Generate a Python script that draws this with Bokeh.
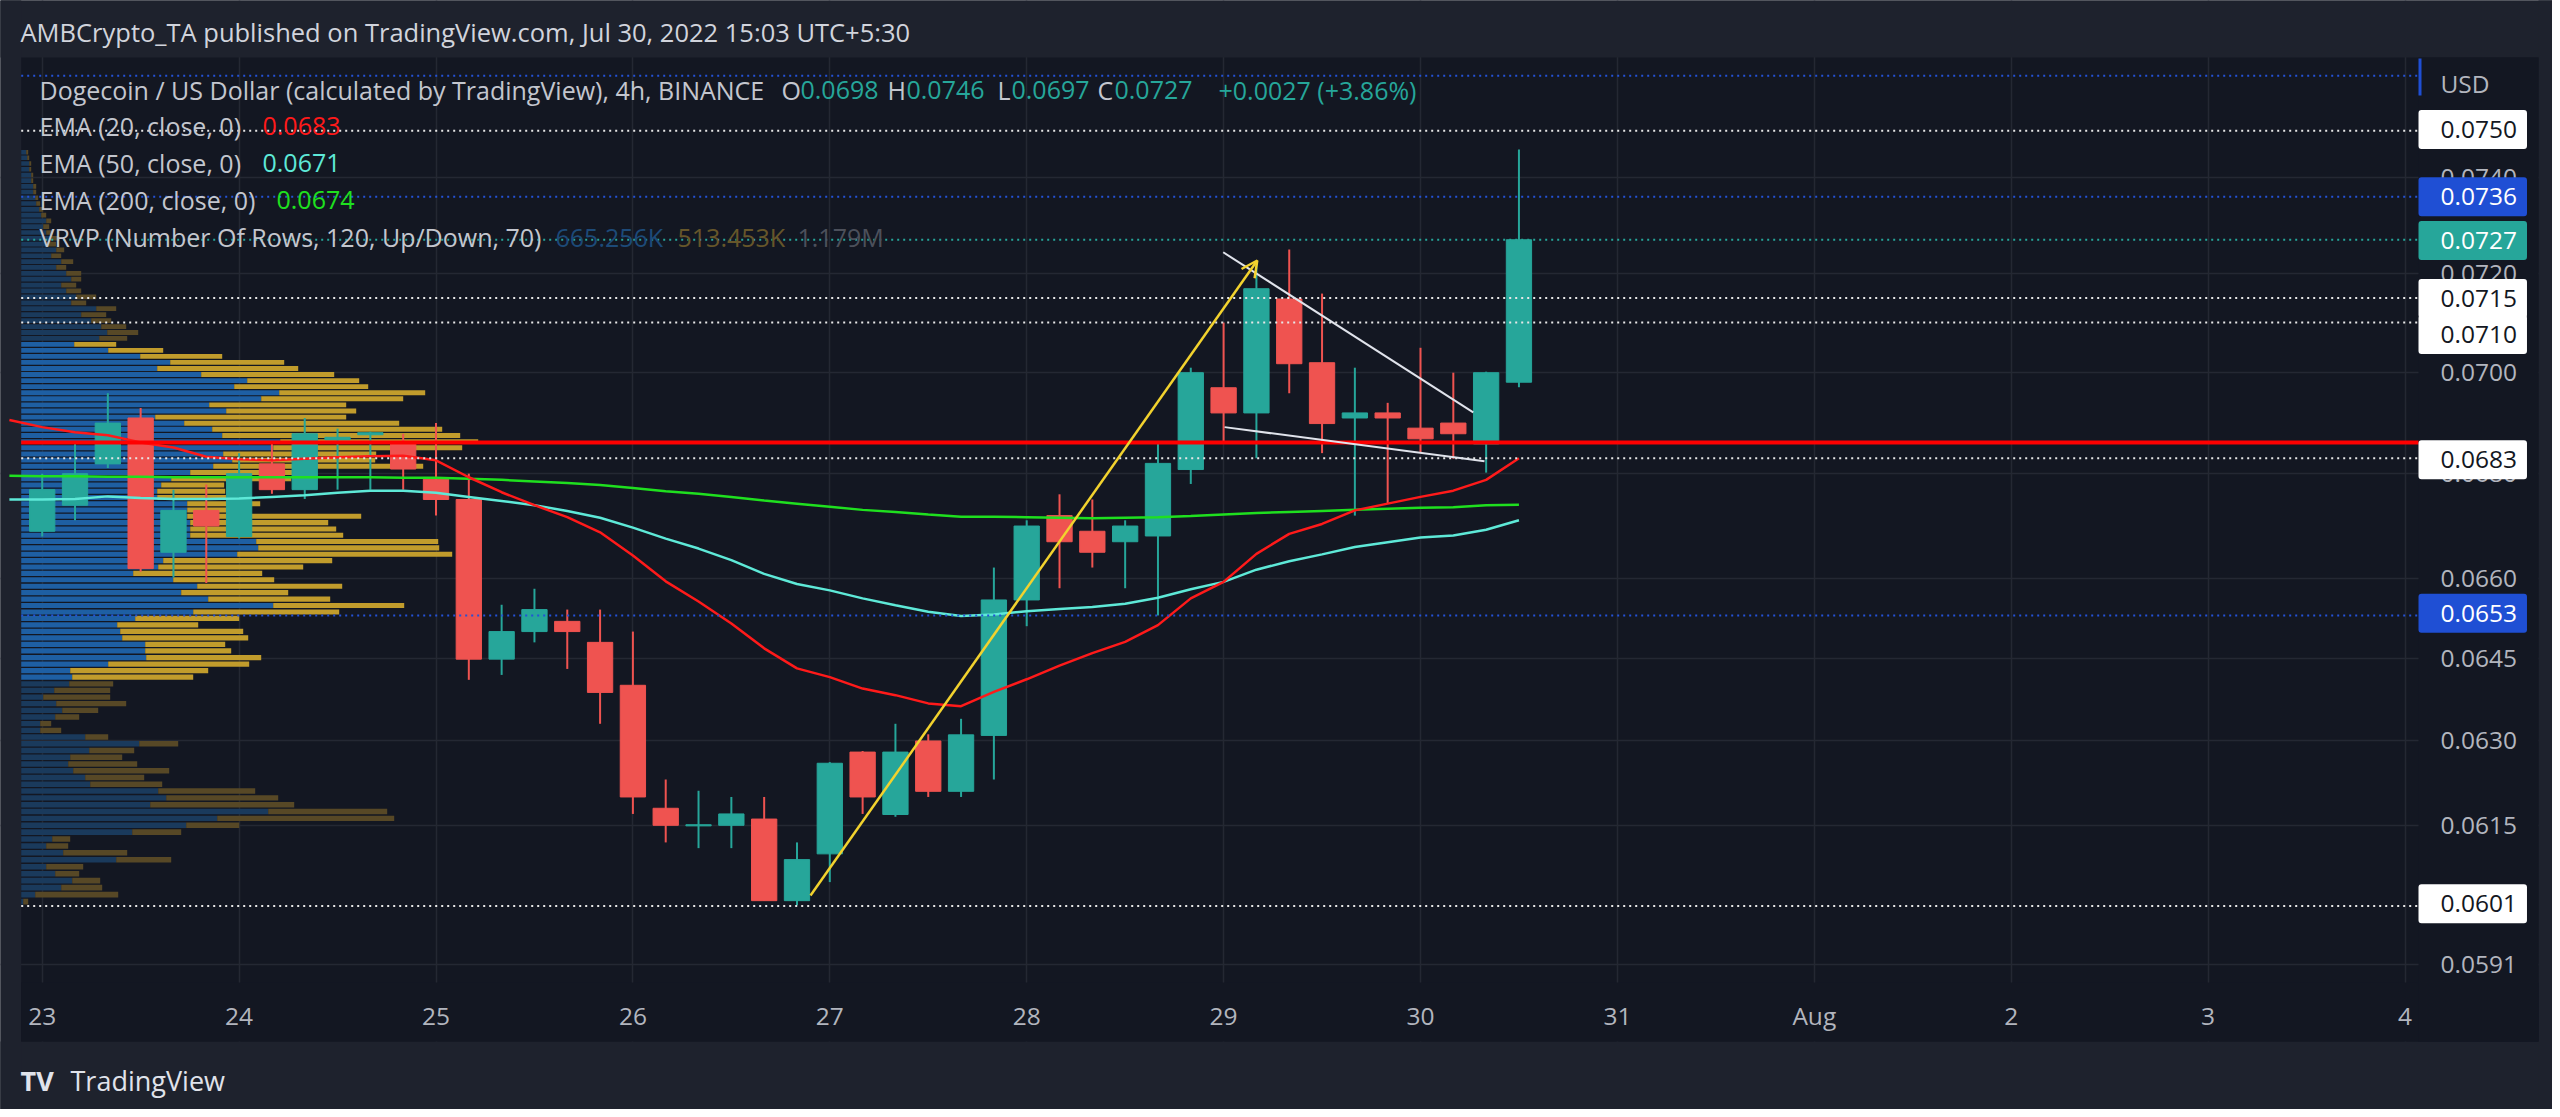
import math
from bokeh.plotting import figure
from bokeh.models import (Range1d, FixedTicker, PrintfTickFormatter, Label,
                          Arrow, OpenHead, ColumnDataSource)
from bokeh.embed import file_html
from bokeh.resources import INLINE

# ---------------- data ----------------
day_labels = ["23", "24", "25", "26", "27", "28", "29", "30", "31", "Aug", "2", "3", "4"]
price_ticks = [0.0591, 0.0615, 0.0630, 0.0645, 0.0660, 0.0680, 0.0700, 0.0720, 0.0740]

candle_open = [0.06689, 0.06739, 0.06819, 0.06909, 0.06649, 0.06729, 0.06679, 0.06819, 0.06769, 0.06866,
               0.06876, 0.06858, 0.06789, 0.06750, 0.06449, 0.06500, 0.06519, 0.06480, 0.06401, 0.06180,
               0.06149, 0.06150, 0.06161, 0.06019, 0.06100, 0.06280, 0.06169, 0.06300, 0.06210, 0.06310,
               0.06559, 0.06719, 0.06689, 0.06669, 0.06680, 0.06808, 0.06969, 0.06919, 0.07148, 0.07019,
               0.06909, 0.06919, 0.06889, 0.06899, 0.06858, 0.06980]
candle_high = [0.06800, 0.06858, 0.06958, 0.06929, 0.06769, 0.06779, 0.06840, 0.06858, 0.06909, 0.06888,
               0.06882, 0.06878, 0.06899, 0.06800, 0.06550, 0.06580, 0.06541, 0.06541, 0.06500, 0.06231,
               0.06211, 0.06200, 0.06200, 0.06120, 0.06262, 0.06282, 0.06331, 0.06312, 0.06340, 0.06620,
               0.06710, 0.06760, 0.06750, 0.06710, 0.06858, 0.07009, 0.07100, 0.07220, 0.07250, 0.07159,
               0.07009, 0.06939, 0.07049, 0.06999, 0.07001, 0.07460]
candle_low = [0.06679, 0.06710, 0.06811, 0.06612, 0.06601, 0.06591, 0.06675, 0.06761, 0.06751, 0.06769,
              0.06769, 0.06769, 0.06719, 0.06411, 0.06420, 0.06480, 0.06431, 0.06331, 0.06170, 0.06120,
              0.06110, 0.06110, 0.06019, 0.06011, 0.06051, 0.06170, 0.06165, 0.06200, 0.06200, 0.06231,
              0.06510, 0.06581, 0.06620, 0.06581, 0.06530, 0.06780, 0.06859, 0.06830, 0.06958, 0.06840,
              0.06719, 0.06742, 0.06842, 0.06829, 0.06802, 0.06970]
candle_close = [0.06769, 0.06800, 0.06899, 0.06618, 0.06729, 0.06699, 0.06800, 0.06769, 0.06878, 0.06871,
                0.06880, 0.06809, 0.06750, 0.06449, 0.06500, 0.06541, 0.06500, 0.06388, 0.06200, 0.06150,
                0.06151, 0.06170, 0.06019, 0.06090, 0.06260, 0.06200, 0.06280, 0.06210, 0.06311, 0.06559,
                0.06699, 0.06669, 0.06649, 0.06699, 0.06820, 0.06999, 0.06919, 0.07169, 0.07017, 0.06898,
                0.06919, 0.06909, 0.06868, 0.06878, 0.06999, 0.07270]

# EMA values, first value is the bar before the first visible candle
ema20 = [0.06905, 0.06891, 0.06881, 0.06875, 0.06861, 0.06851, 0.06833, 0.06828, 0.06826, 0.06829,
         0.06832, 0.06834, 0.06835, 0.06826, 0.06793, 0.06764, 0.06739, 0.06716, 0.06687, 0.06643,
         0.06594, 0.06556, 0.06515, 0.06469, 0.06432, 0.06416, 0.06395, 0.06383, 0.06368, 0.06363,
         0.06389, 0.06412, 0.06437, 0.06460, 0.06481, 0.06512, 0.06562, 0.06593, 0.06646, 0.06684,
         0.06703, 0.06729, 0.06742, 0.06755, 0.06767, 0.06788, 0.06830]
ema50 = [0.06750, 0.06750, 0.06751, 0.06756, 0.06753, 0.06751, 0.06751, 0.06752, 0.06755, 0.06758,
         0.06763, 0.06767, 0.06767, 0.06763, 0.06755, 0.06747, 0.06739, 0.06728, 0.06715, 0.06696,
         0.06675, 0.06656, 0.06634, 0.06608, 0.06589, 0.06577, 0.06562, 0.06549, 0.06537, 0.06529,
         0.06532, 0.06538, 0.06542, 0.06546, 0.06552, 0.06563, 0.06579, 0.06593, 0.06616, 0.06632,
         0.06645, 0.06659, 0.06668, 0.06677, 0.06681, 0.06692, 0.06710]
ema200 = [0.06796, 0.06795, 0.06795, 0.06794, 0.06794, 0.06793, 0.06793, 0.06793, 0.06793, 0.06793,
          0.06793, 0.06793, 0.06792, 0.06792, 0.06790, 0.06788, 0.06785, 0.06782, 0.06778, 0.06772,
          0.06766, 0.06761, 0.06755, 0.06748, 0.06742, 0.06736, 0.06730, 0.06726, 0.06721, 0.06717,
          0.06717, 0.06716, 0.06715, 0.06714, 0.06715, 0.06716, 0.06718, 0.06721, 0.06724, 0.06726,
          0.06728, 0.06730, 0.06732, 0.06734, 0.06735, 0.06739, 0.06740]

# Visible range volume profile: 120 rows between low and high (relative volume units)
vp_low, vp_high, vp_rows = 0.06011, 0.07460, 120
vp_value_area = (33, 86)
vp_up = [2, 14, 40, 51, 34, 25, 95, 42, 25, 31,
         111, 165, 196, 247, 129, 145, 137, 69, 64, 52,
         47, 49, 68, 118, 64, 19, 19, 34, 41, 35,
         22, 33, 48, 51, 49, 87, 125, 124, 124, 101,
         99, 96, 114, 172, 252, 187, 160, 176, 152, 112,
         137, 142, 216, 237, 235, 169, 169, 169, 166, 166,
         166, 136, 136, 140, 150, 169, 192, 211, 202, 252,
         259, 201, 191, 163, 134, 205, 188, 240, 258, 213,
         226, 180, 136, 149, 119, 87, 53, 78, 86, 80,
         70, 60, 75, 50, 55, 45, 40, 50, 45, 35,
         40, 30, 35, 25, 30, 25, 22, 25, 20, 18,
         15, 14, 12, 12, 10, 10, 8, 8, 6, 5]
vp_down = [5, 83, 41, 28, 24, 37, 55, 64, 22, 18,
           49, 53, 177, 119, 144, 112, 97, 72, 59, 96,
           69, 52, 45, 39, 23, 21, 11, 24, 36, 70,
           67, 56, 44, 121, 138, 141, 115, 86, 80, 126,
           123, 81, 104, 146, 131, 122, 107, 145, 101, 129,
           145, 169, 215, 181, 182, 153, 146, 138, 174, 40,
           73, 69, 68, 63, 120, 102, 210, 143, 153, 189,
           198, 238, 230, 215, 191, 130, 137, 142, 146, 134,
           112, 133, 141, 114, 82, 55, 42, 28, 31, 25,
           20, 25, 20, 15, 20, 15, 15, 10, 15, 10,
           12, 10, 8, 10, 8, 6, 6, 5, 5, 4,
           4, 3, 3, 3, 2, 2, 2, 2, 2, 2]

# horizontal drawings
white_levels = [0.0750, 0.0715, 0.0710, 0.0683, 0.0601]
blue_levels = [0.07619, 0.0736, 0.0653]
last_price = 0.0727
support_level = 0.06861
# arrow and wedge drawings (day offset, price)
arrow_pts = [(3.902, 0.06028), (6.171, 0.07227)]
wedge_upper = [(5.998, 0.07244), (7.268, 0.06920)]
wedge_lower = [(6.005, 0.06891), (7.325, 0.06824)]

# price scale labels: (price text, reference row position, kind)
scale_tags = [("0.0750", 129, "white"), ("0.0736", 196.2, "blue"), ("0.0727", 240, "teal"),
              ("0.0715", 298, "white"), ("0.0710", 334, "white"), ("0.0683", 459.3, "white"),
              ("0.0653", 612.8, "blue"), ("0.0601", 903.2, "white")]

# ---------------- style / layout ----------------
BG_OUT = "#1e222d"
BG_IN = "#131722"
GRID = "#242833"
UP = "#26a69a"
DOWN = "#ef5350"
TXT = "#d1d4dc"
LEG = "#c3c6ce"
AX = "#b2b5be"
FONT = "Open Sans"
C20, C50, C200 = "#ff1a1a", "#5ee9d8", "#1fe01f"
TAG_BLUE = "#1f4fd4"

W, H = 2552, 1109          # canvas placed at the page origin
OFF = 0


# reference-pixel -> data helpers (for layout panels only)
def day_at(xr):
    return (xr - 41.7) / 196.9


def price_at(yr):
    return 0.07 * math.exp((371.7 - yr) / 3500.0)


PANE_L, PANE_R = day_at(20.7), day_at(2418)
PANE_T, PANE_B = price_at(57), price_at(982)
SCALE_R = day_at(2538)
AXIS_B = price_at(1041)

p = figure(width=W, height=H, output_backend="svg", toolbar_location=None,
           x_range=Range1d(day_at(OFF), day_at(OFF + W)),
           y_range=Range1d(price_at(OFF + H), price_at(OFF)),
           y_axis_type="log", y_axis_location="right",
           min_border=0, min_border_left=0, min_border_right=0, min_border_top=0, min_border_bottom=0,
           background_fill_color=BG_IN, border_fill_color=BG_IN, outline_line_color=None)
p.extra_x_ranges = {"vp": Range1d(-(20.7 - OFF), W - (20.7 - OFF))}

# axes drawn at the pane edges
p.yaxis.ticker = FixedTicker(ticks=price_ticks)
p.yaxis.formatter = PrintfTickFormatter(format="%.4f")
p.xaxis.ticker = FixedTicker(ticks=list(range(len(day_labels))))
p.xaxis.major_label_overrides = {i: s for i, s in enumerate(day_labels)}
for ax in (p.xaxis, p.yaxis):
    ax.major_tick_line_color = None
    ax.minor_tick_line_color = None
    ax.major_tick_out = 0
    ax.major_tick_in = 0
    ax.axis_line_color = None
    ax.major_label_text_color = AX
    ax.major_label_text_font = FONT
    ax.major_label_text_font_size = "24.5px"
p.yaxis.fixed_location = PANE_R
p.xaxis.fixed_location = PANE_B
p.yaxis.major_label_standoff = 22
p.xaxis.major_label_standoff = 16
p.ygrid.ticker = FixedTicker(ticks=price_ticks)
p.xgrid.ticker = FixedTicker(ticks=list(range(len(day_labels))))
p.grid.grid_line_color = GRID
p.grid.grid_line_width = 1.5

# page panels (outer frame, dark scale strips, edge of the hidden top scale tag)
panels = [(-5, 20, PANE_T, 0.2, BG_OUT), (-5, 20, 0.01, AXIS_B, BG_OUT),
          (-5, PANE_L, 0.01, 0.2, BG_OUT), (SCALE_R, 20, 0.01, 0.2, BG_OUT),
          (PANE_L, SCALE_R, AXIS_B, PANE_B, BG_IN), (PANE_R, SCALE_R, AXIS_B, PANE_T, BG_IN),
          (PANE_R, day_at(2421), price_at(95), price_at(58), TAG_BLUE)]
p.quad(left=[a[0] for a in panels], right=[a[1] for a in panels], bottom=[a[2] for a in panels],
       top=[a[3] for a in panels], fill_color=[a[4] for a in panels], line_color=None)

# volume profile
step = (vp_high - vp_low) / vp_rows
rows = list(range(vp_rows))
in_va = [vp_value_area[0] <= k <= vp_value_area[1] for k in rows]
vp_src = ColumnDataSource(dict(
    bottom=[vp_low + (k + 0.12) * step for k in rows],
    top=[vp_low + (k + 0.92) * step for k in rows],
    left0=[0] * vp_rows,
    up=vp_up,
    tot=[u + d for u, d in zip(vp_up, vp_down)],
    cu=["#1e5fa3" if v else "#1a3a5c" for v in in_va],
    cd=["#c19c2c" if v else "#574826" for v in in_va],
))
p.quad(left="left0", right="up", bottom="bottom", top="top", fill_color="cu", line_color=None,
       source=vp_src, x_range_name="vp")
p.quad(left="up", right="tot", bottom="bottom", top="top", fill_color="cd", line_color=None,
       source=vp_src, x_range_name="vp")

# candles
n = len(candle_open)
cx = [i / 6 for i in range(n)]
col = [UP if c >= o else DOWN for o, c in zip(candle_open, candle_close)]
csrc = ColumnDataSource(dict(
    x=cx, high=candle_high, low=candle_low,
    top=[max(o, c) for o, c in zip(candle_open, candle_close)],
    bottom=[min(o, c) for o, c in zip(candle_open, candle_close)],
    color=col))
p.segment(x0="x", y0="high", x1="x", y1="low", line_color="color", line_width=2, source=csrc)
p.vbar(x="x", width=0.1285, top="top", bottom="bottom", fill_color="color", line_color="color",
       line_width=1, source=csrc)

# EMAs
ex = [(i - 1) / 6 for i in range(len(ema20))]
p.line(ex, ema200, line_color=C200, line_width=2.5)
p.line(ex, ema50, line_color=C50, line_width=2.5)
p.line(ex, ema20, line_color=C20, line_width=2.5)


# drawings (horizontal lines across the pane)
def hline(level, color, width, dash="solid"):
    p.segment(x0=[PANE_L], x1=[PANE_R], y0=[level], y1=[level], line_color=color,
              line_width=width, line_dash=dash)


for lv in white_levels:
    hline(lv, "#e8e8e8", 2, "2 4")
for lv in blue_levels:
    hline(lv, "#2452d6", 2, "2 4")
hline(last_price, UP, 2, "2 4")
hline(support_level, "#ff0000", 4)
p.line([a[0] for a in wedge_upper], [a[1] for a in wedge_upper], line_color="#e0e3eb", line_width=2)
p.line([a[0] for a in wedge_lower], [a[1] for a in wedge_lower], line_color="#e0e3eb", line_width=2)
p.add_layout(Arrow(x_start=arrow_pts[0][0], y_start=arrow_pts[0][1], x_end=arrow_pts[1][0],
                   y_end=arrow_pts[1][1], line_color="#f2d22e", line_width=2.5,
                   end=OpenHead(size=16, line_color="#f2d22e", line_width=2.5)))


# texts (reference pixel coordinates -> frame screen coordinates)
def txt(xr, yr, s, color=LEG, size=25, align="left", **kw):
    lab = Label(x=xr - OFF, y=(OFF + H) - yr, x_units="screen", y_units="screen", text=s,
                text_color=color, text_font=FONT, text_font_size=f"{size}px",
                text_align=align, text_baseline="middle", **kw)
    p.add_layout(lab)
    return lab


def set_padding(lab, t, r, b, l):
    for val in (dict(left=l, right=r, top=t, bottom=b), (t, r, b, l)):
        try:
            lab.padding = val
            return
        except Exception:
            pass
    lab.padding = t


txt(20, 31, "AMBCrypto_TA published on TradingView.com, Jul 30, 2022 15:03 UTC+5:30", color=TXT, size=25.5)
txt(39, 89, "Dogecoin / US Dollar (calculated by TradingView), 4h, BINANCE")
for xr, s, c in [(781, "O", LEG), (800, "0.0698", UP), (887, "H", LEG), (906, "0.0746", UP),
                 (997, "L", LEG), (1011, "0.0697", UP), (1097, "C", LEG), (1114, "0.0727", UP),
                 (1218, "+0.0027 (+3.86%)", UP)]:
    txt(xr, 89, s, color=c)
txt(39, 125, "EMA (20, close, 0)")
txt(262, 125, "0.0683", color=C20)
txt(39, 162, "EMA (50, close, 0)")
txt(262, 162, "0.0671", color=C50)
txt(39, 199, "EMA (200, close, 0)")
txt(276, 199, "0.0674", color=C200)
txt(39, 236, "VRVP (Number Of Rows, 120, Up/Down, 70)")
txt(555, 236, "665.256K", color="#1d4a78")
txt(677, 236, "513.453K", color="#66562a")
txt(797, 236, "1.179M", color="#4c505b")

txt(2440, 83, "USD", color=AX, size=24.5)

# scale tags: box anchored at the scale's left edge, text inset by the left padding
tag_style = {"white": ("#ffffff", "#131722"), "blue": (TAG_BLUE, "#ffffff"), "teal": (UP, "#ffffff")}
for s, yr, kind in scale_tags:
    bg, fg = tag_style[kind]
    lab = txt(2418, yr, s, color=fg, size=24.5, background_fill_color=bg,
              background_fill_alpha=1, border_radius=3)
    set_padding(lab, 11, 10, 11, 22)

# TradingView logo text
txt(20, 1080, "TV", color="#e0e3eb", size=27, text_font_style="bold")
txt(70, 1080, "TradingView", color="#e0e3eb", size=27)

html = file_html(p, INLINE)
html = html.replace("<body>", '<body style="background-color:%s;">' % BG_OUT, 1)
open("out.html", "w").write(html)
